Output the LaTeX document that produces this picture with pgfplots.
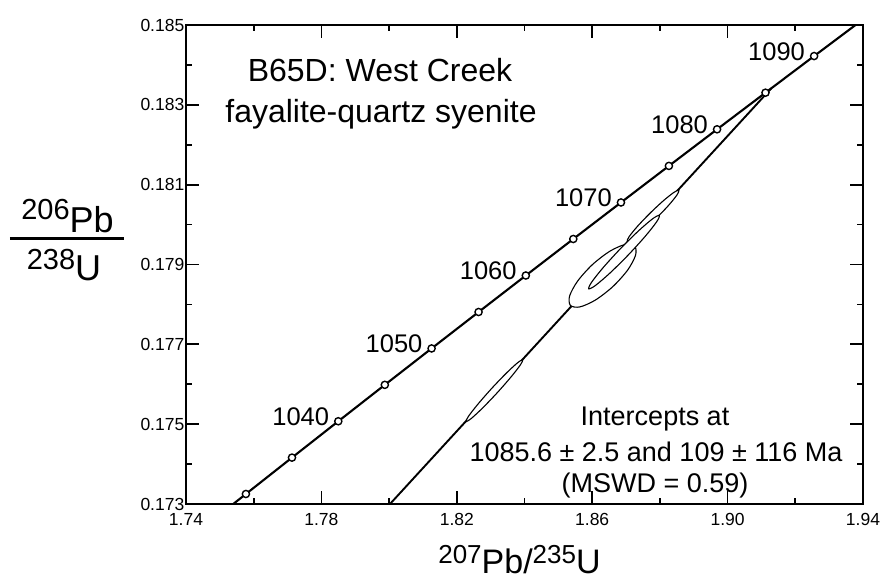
\documentclass[border=0pt]{standalone}
\usepackage{fontspec}
\setmainfont{Liberation Sans}
\usepackage{pgfplots}
\pgfplotsset{compat=1.18}
\begin{document}
\begin{tikzpicture}
\begin{axis}[
  at={(0,0)}, anchor=south west,
  scale only axis, width=677pt, height=479pt,
  xmin=1.74, xmax=1.94, ymin=0.173, ymax=0.185,
  xtick={1.74,1.78,1.82,1.86,1.90,1.94},
  minor xtick={1.76,1.80,1.84,1.88,1.92},
  ytick={0.173,0.175,0.177,0.179,0.181,0.183,0.185},
  minor ytick={0.174,0.176,0.178,0.180,0.182,0.184},
  tick align=inside,
  major tick length=13pt, minor tick length=6.5pt,
  every tick/.style={line width=1.7pt, black},
  axis line style={line width=2.3pt},
  scaled ticks=false,
  xticklabel={\pgfmathprintnumber[fixed,fixed zerofill,precision=2,assume math mode=true]{\tick}},
  yticklabel={\pgfmathprintnumber[fixed,fixed zerofill,precision=3,assume math mode=true]{\tick}},
  tick label style={font=\fontsize{17.5}{17.5}\selectfont},
  xticklabel style={yshift=-6pt},
  yticklabel style={inner sep=1.5pt},
]
% discordia
\addplot[line width=1.9pt, mark=none] coordinates {(1.794855,0.1725) (1.912916,0.183414)};
% error ellipses
\addplot[line width=1.1pt, draw=black, fill=white, smooth cycle] coordinates {
(1.839497,0.176615) (1.838754,0.176481) (1.835964,0.176177) (1.831872,0.175781)
(1.827576,0.175401) (1.824228,0.175139) (1.822723,0.175065) (1.823466,0.175199)
(1.826256,0.175503) (1.830348,0.175899) (1.834644,0.176279) (1.837992,0.176541)};
\addplot[line width=1.1pt, draw=black, fill=white, smooth cycle] coordinates {
(1.872558,0.179465) (1.872790,0.179227) (1.870416,0.178854) (1.866070,0.178444)
(1.860918,0.178108) (1.856340,0.177937) (1.853562,0.177975) (1.853330,0.178213)
(1.855704,0.178586) (1.860050,0.178996) (1.865202,0.179332) (1.869780,0.179503)};
\addplot[line width=1.1pt, draw=black, fill=white, smooth cycle] coordinates {
(1.885617,0.180859) (1.885008,0.180737) (1.882517,0.180477) (1.878810,0.180149)
(1.874881,0.179839) (1.871782,0.179631) (1.870343,0.179581) (1.870952,0.179703)
(1.873443,0.179963) (1.877150,0.180291) (1.881079,0.180601) (1.884178,0.180809)};
\addplot[line width=1.1pt, draw=black, fill=white, smooth cycle] coordinates {
(1.879853,0.180229) (1.878986,0.180063) (1.875553,0.179695) (1.870474,0.179223)
(1.865109,0.178775) (1.860898,0.178471) (1.858967,0.178391) (1.859834,0.178557)
(1.863267,0.178925) (1.868346,0.179397) (1.873711,0.179845) (1.877922,0.180150)};
% concordia
\addplot[line width=2.1pt, mark=none] coordinates {
(1.744149,0.172342) (1.757697,0.173251) (1.771310,0.174162) (1.784989,0.175073)
(1.798738,0.175985) (1.812554,0.176897) (1.826437,0.177810) (1.840389,0.178724)
(1.854411,0.179639) (1.868500,0.180554) (1.882660,0.181470) (1.896891,0.182387)
(1.911192,0.183304) (1.925561,0.184222) (1.940004,0.185141)};
\addplot[only marks, mark=*, mark size=3.6pt, mark options={fill=white, draw=black, line width=1.4pt}] coordinates {
(1.757697,0.173251) (1.771310,0.174162) (1.784989,0.175073)
(1.798738,0.175985) (1.812554,0.176897) (1.826437,0.177810) (1.840389,0.178724)
(1.854411,0.179639) (1.868500,0.180554) (1.882660,0.181470) (1.896891,0.182387)
(1.911192,0.183304) (1.925561,0.184222)};
\addplot[draw=none, mark=none, nodes near coords, point meta=explicit symbolic,
  every node near coord/.append style={anchor=base east, xshift=-9pt, yshift=-4pt, inner sep=0pt, font=\fontsize{25.5}{25.5}\selectfont}]
  coordinates {
(1.784989,0.175073) [1040] (1.812554,0.176897) [1050] (1.840389,0.178724) [1060]
(1.868500,0.180554) [1070] (1.896891,0.182387) [1080] (1.925561,0.184222) [1090]};
\end{axis}
% title
\node[anchor=base, inner sep=0pt, font=\fontsize{32}{38}\selectfont] at (194pt,422pt) {B65D: West Creek};
\node[anchor=base, inner sep=0pt, font=\fontsize{32}{38}\selectfont] at (195pt,381pt) {fayalite-quartz syenite};
% intercepts
\node[anchor=base, inner sep=0pt, font=\fontsize{27}{32}\selectfont] at (469pt,79pt) {Intercepts at};
\node[anchor=base, inner sep=0pt, font=\fontsize{27}{32}\selectfont] at (470pt,43pt) {1085.6 ± 2.5 and 109 ± 116 Ma};
\node[anchor=base, inner sep=0pt, font=\fontsize{27}{32}\selectfont] at (469pt,12pt) {(MSWD = 0.59)};
% x label
\node[anchor=base, inner sep=0pt] at (333.5pt,-69pt) {\fontsize{26}{26}\selectfont\raisebox{10pt}{207}\fontsize{34}{34}\selectfont Pb/\fontsize{26}{26}\selectfont\raisebox{10pt}{235}\fontsize{34}{34}\selectfont U};
% y label
\node[anchor=base, inner sep=0pt] at (-118.5pt,272pt) {\fontsize{29}{29}\selectfont\raisebox{13pt}{206}\fontsize{36}{36}\selectfont Pb};
\draw[line width=3pt] (-176pt,265.7pt) -- (-62pt,265.7pt);
\node[anchor=base, inner sep=0pt] at (-122pt,224pt) {\fontsize{29}{29}\selectfont\raisebox{10pt}{238}\fontsize{36}{36}\selectfont U};
\pgfresetboundingbox
\useasboundingbox (-186pt,-78pt) rectangle (698pt,504pt);
\end{tikzpicture}
\end{document}
